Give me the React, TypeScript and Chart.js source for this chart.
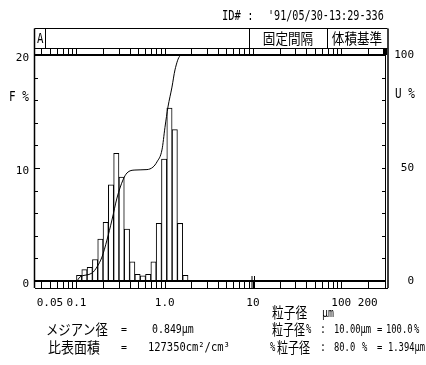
import React, { useEffect, useRef } from "react";
import { Chart, registerables } from "chart.js";

Chart.register(...registerables);

// Particle-size bins (µm, bin centres) and frequency F %
const binSizes = [
  0.1072, 0.1231, 0.1414, 0.1625, 0.1866, 0.2144, 0.2462, 0.2828, 0.3249, 0.3732,
  0.4287, 0.4925, 0.5657, 0.6498, 0.7464, 0.8574, 0.9849, 1.1314, 1.2996, 1.4929, 1.7148,
];
const frequency = [
  0.5, 1.0, 1.2, 1.9, 3.7, 5.2, 8.5, 11.3, 9.2, 4.6,
  1.7, 0.6, 0.45, 0.6, 1.7, 5.1, 10.8, 15.3, 13.4, 5.1, 0.5,
];

// Cumulative undersize curve U %
const cumSizes = [
  0.0339, 0.1, 0.1096, 0.1499, 0.1707, 0.1945, 0.2216, 0.2525, 0.2876, 0.3364, 0.3735,
  0.4601, 0.6292, 0.736, 0.8167, 0.9307, 1.0065, 1.0884, 1.2083, 1.3066, 1.4888, 1.6101, 321.5,
];
const cumulative = [
  0, 0, 1.8, 3.5, 6.2, 10.6, 18.1, 27, 36.7, 44.7, 47.8,
  49.1, 49.3, 50.4, 52.7, 58, 68, 77, 85.8, 93.4, 99.6, 100, 100,
];

// Axis ticks
const xTickValues = [0.05, 0.1, 1, 10, 100, 200];
const xTickLabels = ["0.05", "0.1", "1.0", "10", "100", "200"];
const stripMarks = [
  0.04, 0.05, 0.06, 0.07, 0.08, 0.09, 0.1, 0.2, 0.3, 0.4, 0.5, 0.6, 0.7, 0.8, 0.9, 1,
  2, 3, 4, 5, 6, 7, 8, 9, 10, 20, 30, 40, 50, 60, 70, 80, 90, 100, 200, 300,
];
const fMinorTicks = [2, 4, 6, 8, 10, 12, 14, 16, 18];
const uMinorTicks = [10, 20, 30, 40, 50, 60, 70, 80, 90];

const MONO = "DejaVu Sans Mono";
const CJK = "Noto Sans CJK JP";

function txt(
  ctx: CanvasRenderingContext2D,
  s: string,
  x: number,
  y: number,
  font: string,
  sx = 1,
  sy = 1,
  align: CanvasTextAlign = "left"
) {
  ctx.save();
  ctx.translate(x, y);
  ctx.scale(sx, sy);
  ctx.font = font;
  ctx.textAlign = align;
  ctx.textBaseline = "middle";
  ctx.fillStyle = "#000";
  ctx.fillText(s, 0, 0);
  ctx.restore();
}

const framePlugin = {
  id: "frame",
  afterDraw(chart: any) {
    const ctx: CanvasRenderingContext2D = chart.ctx;
    const { left, right, top, bottom } = chart.chartArea;
    const xs = chart.scales.x;
    const ys = chart.scales.y;
    const yu = chart.scales.y1;
    ctx.save();
    ctx.strokeStyle = "#000";
    ctx.lineCap = "butt";
    const line = (x1: number, y1: number, x2: number, y2: number, w = 1) => {
      ctx.lineWidth = w;
      ctx.beginPath();
      ctx.moveTo(x1, y1);
      ctx.lineTo(x2, y2);
      ctx.stroke();
    };
    const hTop = 28.5;
    const hBot = 48.5;
    const sBot = bottom + 7;
    // header box
    line(left - 0.5, hTop, right + 1.5, hTop);
    line(left - 0.5, hBot, right + 1.5, hBot);
    line(left + 10.5, hTop, left + 10.5, hBot);
    line(249.5, hTop, 249.5, hBot);
    line(327.5, hTop, 327.5, hBot);
    // frame
    line(left - 0.5, hTop, left - 0.5, sBot, 1.5);
    line(right - 0.5, hBot, right - 0.5, sBot, 1);
    line(right + 2, hTop, right + 2, sBot, 1.5);
    line(left, top, right, top, 2);
    line(left, bottom, right, bottom, 2);
    line(left, sBot + 0.5, right + 2, sBot + 0.5, 1);
    ctx.fillStyle = "#000";
    ctx.fillRect(right - 3, hBot, 4, top - hBot);
    // strip marks
    for (const v of stripMarks) {
      const px = Math.round(xs.getPixelForValue(v)) + 0.5;
      if (px <= left + 1 || px >= right - 3) continue;
      line(px, hBot, px, top, 1);
      line(px, bottom, px, sBot, 1);
    }
    const p10 = Math.round(xs.getPixelForValue(10));
    line(p10 - 1, bottom - 5, p10 - 1, sBot, 1);
    line(p10 + 1.5, bottom - 5, p10 + 1.5, sBot, 1);
    // F % ticks (inside)
    for (const v of fMinorTicks) {
      const py = Math.round(ys.getPixelForValue(v)) + 0.5;
      line(left, py, left + (v === 10 ? 5 : 3), py, 1);
    }
    // U % ticks (inside)
    for (const v of uMinorTicks) {
      const py = Math.round(yu.getPixelForValue(v)) + 0.5;
      line(right - 1, py, right - 4, py, 1);
    }
    ctx.restore();

    // texts
    const m11 = `11px "${MONO}"`;
    txt(ctx, "ID# :", 222, 17, m11, 0.95, 1.2);
    txt(ctx, "'91/05/30-13:29-336", 268, 17, m11, 0.92, 1.2);
    txt(ctx, "A", left + 2, 39, `12px "${MONO}"`, 0.9, 1.2);
    txt(ctx, "固定間隔", 288, 38, `14px "${CJK}"`, 0.9, 1.05, "center");
    txt(ctx, "体積基準", 357, 38, `14px "${CJK}"`, 0.9, 1.05, "center");
    txt(ctx, "F %", 9, 98, m11, 1, 1.2);
    txt(ctx, "U %", 395, 95, m11, 1, 1.2);
    // axis title
    txt(ctx, "粒子径", 272, 313, `13px "${CJK}"`, 0.9, 1.1);
    txt(ctx, "µm", 322, 314, m11, 0.9, 1.1);
    // footer line 1
    const c13 = `13px "${CJK}"`;
    txt(ctx, "メジアン径", 46, 330, c13, 0.95, 1.1);
    txt(ctx, "=", 121, 330, m11, 0.9, 1.1);
    txt(ctx, "0.849µm", 152, 330, m11, 0.9, 1.1);
    txt(ctx, "粒子径", 272, 330, c13, 0.85, 1.1);
    txt(ctx, "%", 306, 330, m11, 0.8, 1.1);
    txt(ctx, ":", 320, 330, m11, 0.9, 1.1);
    txt(ctx, "10.00µm", 334, 330, m11, 0.8, 1.1);
    txt(ctx, "=", 377, 330, m11, 0.8, 1.1);
    txt(ctx, "100.0", 386, 330, m11, 0.8, 1.1);
    txt(ctx, "%", 414, 330, m11, 0.8, 1.1);
    // footer line 2
    txt(ctx, "比表面積", 48, 348, c13, 1, 1.1);
    txt(ctx, "=", 121, 348, m11, 0.9, 1.1);
    txt(ctx, "127350cm²/cm³", 148, 348, m11, 0.95, 1.1);
    txt(ctx, "%", 270, 348, m11, 0.8, 1.1);
    txt(ctx, "粒子径", 277, 348, c13, 0.85, 1.1);
    txt(ctx, ":", 320, 348, m11, 0.9, 1.1);
    txt(ctx, "80.0", 334, 348, m11, 0.8, 1.1);
    txt(ctx, "%", 362, 348, m11, 0.8, 1.1);
    txt(ctx, "=", 377, 348, m11, 0.8, 1.1);
    txt(ctx, "1.394µm", 388, 348, m11, 0.8, 1.1);
  },
};

export default function App() {
  const ref = useRef<HTMLCanvasElement | null>(null);
  useEffect(() => {
    const canvas = ref.current;
    if (!canvas) return;
    const tickFont = { family: MONO, size: 11 };
    const chart = new Chart(canvas, {
      type: "bar",
      data: {
        datasets: [
          {
            type: "line",
            data: cumSizes.map((x, i) => ({ x, y: cumulative[i] })),
            borderColor: "#000",
            borderWidth: 1,
            pointRadius: 0,
            fill: false,
            cubicInterpolationMode: "monotone",
            yAxisID: "y1",
            order: 0,
          } as any,
          {
            type: "bar",
            data: binSizes.map((x, i) => ({ x, y: frequency[i] })),
            backgroundColor: "#fff",
            borderColor: "#000",
            borderWidth: 1,
            barPercentage: 1,
            categoryPercentage: 1,
            yAxisID: "y",
            order: 1,
          } as any,
        ],
      },
      options: {
        animation: false,
        responsive: false,
        maintainAspectRatio: false,
        devicePixelRatio: 1,
        layout: { padding: { left: 5, right: 12, top: 55, bottom: 54 } },
        plugins: { legend: { display: false }, tooltip: { enabled: false } },
        scales: {
          x: {
            type: "logarithmic",
            min: 0.0339,
            max: 321.5,
            offset: false,
            bounds: "data",
            grid: { display: false, drawTicks: false },
            border: { display: false },
            afterBuildTicks: (s: any) => {
              s.ticks = xTickValues.map((value) => ({ value }));
            },
            afterFit: (s: any) => {
              s.height = 30;
            },
            ticks: {
              autoSkip: false,
              maxRotation: 0,
              padding: 16,
              color: "#000",
              font: tickFont,
              callback: (_v: any, i: number) => xTickLabels[i],
            },
          },
          y: {
            type: "linear",
            position: "left",
            min: 0,
            max: 20,
            grid: { display: false, drawTicks: false },
            border: { display: false },
            afterFit: (s: any) => {
              s.width = 30;
            },
            ticks: { stepSize: 10, padding: 6, labelOffset: 3, color: "#000", font: tickFont },
          },
          y1: {
            type: "linear",
            position: "right",
            min: 0,
            max: 100,
            grid: { display: false, drawTicks: false },
            border: { display: false },
            afterFit: (s: any) => {
              s.width = 28;
            },
            ticks: { stepSize: 50, crossAlign: "far", color: "#000", font: tickFont },
          },
        },
      } as any,
      plugins: [framePlugin],
    });
    return () => chart.destroy();
  }, []);
  return (
    <div style={{ position: "fixed", left: 0, top: 0, width: 426, height: 365, background: "#fff" }}>
      <canvas ref={ref} width={426} height={365} style={{ display: "block" }} />
    </div>
  );
}
